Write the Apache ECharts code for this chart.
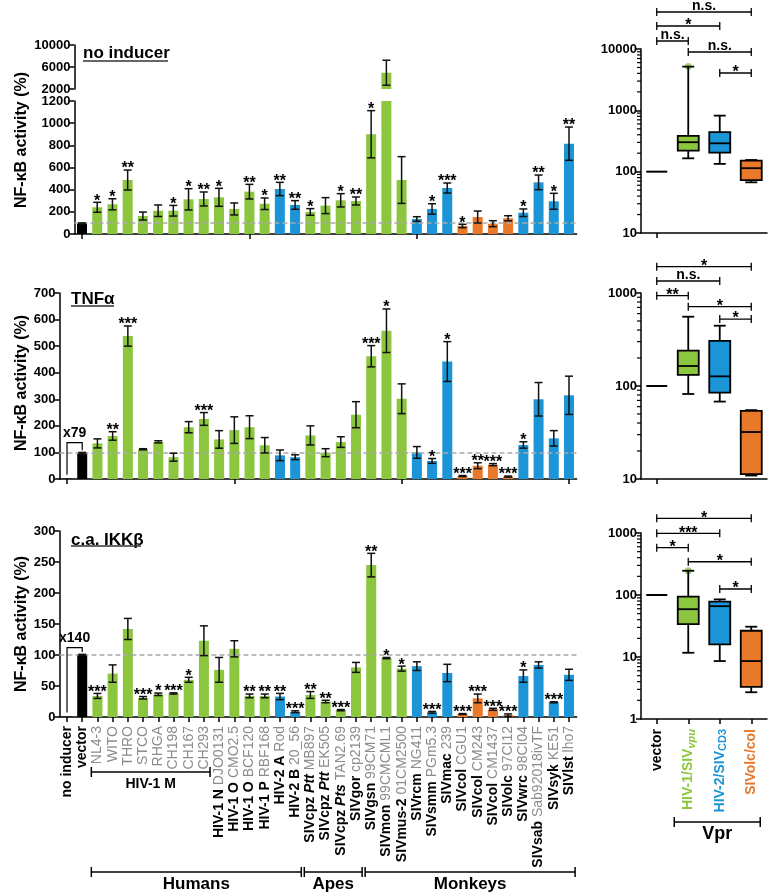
<!DOCTYPE html>
<html><head><meta charset="utf-8">
<script src="https://cdn.jsdelivr.net/npm/echarts@6/dist/echarts.min.js"></script>
<style>html,body{margin:0;padding:0;background:#fff}#c{width:769px;height:894px}</style>
</head><body><div id="c"></div>
<script>
// ---------------- DATA ----------------
const catMain = ['no inducer','vector','','','','','','','','','HIV-1 N','HIV-1 O','HIV-1 O','HIV-1 P','HIV-2 A','HIV-2 B',
  'SIVcpz _Ptt_','SIVcpz _Ptt_','SIVcpz _Pts_','SIVgor','SIVgsn','SIVmon','SIVmus-2','SIVrcm','SIVsmm','SIVmac',
  'SIVcol','SIVcol','SIVcol','SIVolc','SIVwrc','SIVsab','SIVsyk','SIVlst'];
const catStrain = ['','','NL4-3','WITO','THRO','STCO','RHGA','CH198','CH167','CH293','DJO0131','CMO2.5','BCF120','RBF168','Rod','20_56',
  'MB897','EK505','TAN2.69','cp2139','99CM71','99CMCML1','01CM2500','NG411','PGm5.3','239',
  'CGU1','CM243','CM1437','97CI12','98CI04','Sab92018ivTF','KE51','lho7'];
const vprGroup = ['vector','vector','vpu','vpu','vpu','vpu','vpu','vpu','vpu','vpu','vpu','vpu','vpu','vpu','cd3','cd3',
  'vpu','vpu','vpu','vpu','vpu','vpu','vpu','cd3','cd3','cd3','col','col','col','col','cd3','cd3','cd3','cd3'];

const noInducer    = [null,95,241,268,487,162,210,210,313,316,331,226,382,273,406,262,199,256,304,298,900,4960,487,135,226,415,72,153,93,142,192,466,295,815];
const noInducerErr = [null,5,45,50,90,36,52,48,96,63,81,54,66,52,60,39,30,72,60,36,213,2270,211,21,47,45,15,54,27,23,34,66,72,150];
const noInducerSig = ['','','*','*','**','','','*','*','**','*','','**','*','**','**','*','','*','**','*','','','','*','***','*','','','','*','**','*','**'];

const tnf    = [1.3,97,134,162,538,112,140,82,195,226,149,184,195,127,89,82,164,99,139,242,462,558,302,100,68,442,11,50,54,9,128,300,153,315];
const tnfErr = [0,3,17,16,38,2,4,15,21,24,33,50,43,29,20,9,36,15,20,49,40,82,56,22,9,75,2,11,4,2,12,63,29,72];
const tnfSig = ['','','','**','***','','','','','***','','','','','','','','','','','***','*','','','*','*','***','**','***','***','*','','',''];

const ikk    = [0.7,100,34,70,142,31,36.6,38,60,123,76,110,34,34,33,8.5,35.5,25,11,80,245,95,78,82,7.6,71,4.8,30,12.4,3,66,84,23.7,68];
const ikkErr = [0,1,4,14,17,2,2,1,4,24,20,13,3,3,5,1.5,5.5,2,1,8,19,1,4,7,1.4,14,0.7,7,1.6,2,10,5,0.8,9];
const ikkSig = ['','','***','','','***','*','***','*','','','','**','**','**','***','**','**','***','','**','*','*','','***','','***','***','***','***','*','','***',''];

const topBreakTicks = [2000,6000,10000];

// fold-change annotations: [fromCat, toCat, bracketLevel, label]
const tnfFold = [[0,1,137,'x79']];
const ikkFold = [[0,1,112,'x140']];

// host groups: [label, firstCat, lastCat]
const hostGroups = [['Humans',2,15],['Apes',16,19],['Monkeys',20,33]];
const subGroups = [['HIV-1 M',2,9]];

// box plots: [min, Q1, median, Q3, max]
const boxCats  = ['vector','HIV-1/SIVvpu','HIV-2/SIVCD3','SIVolc/col'];
const boxGroup = ['vector','vpu','cd3','col'];
const boxNoInducer = [[100,100,100,100,100],[165,220,302,382,5160],[134,204,290,440,820],[67,73,114,151,155]];
const boxTnf       = [[100,100,100,100,100],[82,132,164,240,556],[68,85,127,305,445],[10.9,11.3,32,54,55]];
const boxIkk       = [[100,100,100,100,100],[11.7,34,59,94,246],[8.6,16,66,78,85],[2.7,3.3,8.6,26.5,30.8]];
const boxDotNoInducer = [[1,5160]];
const boxDotIkk       = [[1,246]];
// significance: [fromBox, toBox, level, label]
const sigBoxNoInducer = [[0,3,40100,'n.s.'],[0,2,23700,'*'],[0,1,13500,'n.s.'],[1,3,8940,'n.s.'],[2,3,4060,'*']];
const sigBoxTnf       = [[0,3,1919,'*'],[0,2,1346,'n.s.'],[0,1,935,'**'],[1,3,713,'*'],[2,3,525,'*']];
const sigBoxIkk       = [[0,3,1726,'*'],[0,2,989,'***'],[0,1,579,'*'],[1,3,344,'*'],[2,3,125,'*']];

// ---------------- STYLE ----------------
const FONT = '"Liberation Sans", Arial, Helvetica, sans-serif';
const COLORS = {vector:'#000000', vpu:'#8cc63f', cd3:'#1b95d6', col:'#e8782a'};
const GRAY = '#8c8c8c';

const catNames = catMain.map((m,i)=>(m.replace(/_/g,'')+' '+catStrain[i]).trim());
const catNamesTop = catNames.slice(1);

function catLabel(i){
  const m = catMain[i], s = catStrain[i];
  let out = '';
  if (m){
    const parts = m.split('_');
    parts.forEach((p,k)=>{ if(p) out += (k%2 ? '{bi|'+p+'}' : '{b|'+p+'}'); });
  }
  if (s) out += '{g|'+(m ? ' ' : '')+s+'}';
  return out;
}

const axLine = {show:true, onZero:false, lineStyle:{color:'#000', width:1.5}};
const axTick = {show:true, length:5, alignWithLabel:true, lineStyle:{color:'#000', width:1.5}};
const yLab = {color:'#000', fontSize:13, fontWeight:'bold', fontFamily:FONT, margin:4, formatter:v=>String(Math.round(v*100)/100)};

// minor tick positions of the log axes (2..9 of each decade)
function minorVals(lo, hi){
  const out = [];
  let d = lo;
  while (d < hi){ for (let k = 2; k <= 9; k++) out.push(k*d); d = d*10; }
  return out;
}

function grid(l,t,w,h){ return {left:l, top:t, width:w, height:h, containLabel:false, outerBoundsMode:'none'}; }

const grids = [
  grid(74.4,45,502.2,44),
  grid(74.4,101,502.2,133),
  grid(59.4,293,517.2,186),
  grid(59.4,531,517.2,186),
  grid(641,49,126,184),
  grid(641,293,126,186),
  grid(641,533,126,186)
];

const xAxes = [
  {type:'category', gridIndex:0, data:catNamesTop, show:false},
  {type:'category', gridIndex:1, data:catNamesTop, axisLine:axLine, axisTick:axTick, axisLabel:{show:false}},
  {type:'category', gridIndex:2, data:catNames, axisLine:axLine, axisTick:axTick, axisLabel:{show:false}},
  {type:'category', gridIndex:3, data:catNames, axisLine:axLine, axisTick:axTick,
    axisLabel:{show:true, interval:0, rotate:90, margin:9, formatter:(v,i)=>catLabel(i),
      rich:{
        b:{fontWeight:'bold', color:'#000', fontSize:14, fontFamily:FONT},
        bi:{fontWeight:'bold', fontStyle:'italic', color:'#000', fontSize:14, fontFamily:FONT},
        g:{fontWeight:'normal', color:GRAY, fontSize:14, fontFamily:FONT}
      }}},
  {type:'category', gridIndex:4, data:boxCats, axisLine:axLine, axisTick:axTick, axisLabel:{show:false}},
  {type:'category', gridIndex:5, data:boxCats, axisLine:axLine, axisTick:axTick, axisLabel:{show:false}},
  {type:'category', gridIndex:6, data:boxCats, axisLine:axLine, axisTick:axTick,
    axisLabel:{show:true, interval:0, rotate:90, margin:10,
      formatter:(v,i)=>['{k|vector}','{g|HIV-1/SIV}{gs|vpu}','{u|HIV-2/SIV}{us|CD3}','{o|SIVolc/col}'][i],
      rich:{
        k:{fontWeight:'bold', color:'#000', fontSize:14, fontFamily:FONT, lineHeight:18},
        g:{fontWeight:'bold', color:COLORS.vpu, fontSize:14, fontFamily:FONT, lineHeight:18},
        gs:{fontWeight:'bold', fontStyle:'italic', color:COLORS.vpu, fontSize:11, fontFamily:FONT, lineHeight:18, verticalAlign:'bottom', padding:[6,0,0,0]},
        u:{fontWeight:'bold', color:COLORS.cd3, fontSize:14, fontFamily:FONT, lineHeight:18},
        us:{fontWeight:'bold', color:COLORS.cd3, fontSize:11, fontFamily:FONT, lineHeight:18, verticalAlign:'bottom', padding:[6,0,0,0]},
        o:{fontWeight:'bold', color:COLORS.col, fontSize:14, fontFamily:FONT, lineHeight:18}
      }}}
];

function logAxis(gi, lo, hi){
  return {type:'log', logBase:10, gridIndex:gi, min:lo, max:hi, axisLine:axLine,
      axisTick:{show:true, length:5, lineStyle:{color:'#000', width:1.5}},
      axisLabel:Object.assign({}, yLab, {formatter:v=>String(Math.round(v))}), splitLine:{show:false}};
}

const yAxes = [
  {type:'value', gridIndex:0, min:2000, max:10000, axisLine:axLine,
    axisTick:{show:true, length:5, customValues:topBreakTicks, lineStyle:{color:'#000', width:1.5}},
    axisLabel:Object.assign({}, yLab, {customValues:topBreakTicks}), splitLine:{show:false}},
  {type:'value', gridIndex:1, min:0, max:1200, interval:200, axisLine:axLine, axisTick:{show:true,length:5,lineStyle:{color:'#000',width:1.5}}, axisLabel:yLab, splitLine:{show:false}},
  {type:'value', gridIndex:2, min:0, max:700, interval:100, axisLine:axLine, axisTick:{show:true,length:5,lineStyle:{color:'#000',width:1.5}}, axisLabel:yLab, splitLine:{show:false}},
  {type:'value', gridIndex:3, min:0, max:300, interval:50, axisLine:axLine, axisTick:{show:true,length:5,lineStyle:{color:'#000',width:1.5}}, axisLabel:yLab, splitLine:{show:false}},
  logAxis(4,10,10000),
  logAxis(5,10,1000),
  logAxis(6,1,1000)
];

const refLine = {silent:true, symbol:'none', label:{show:false}, lineStyle:{type:[5,3], color:'#a9a9a9', width:1.5}, emphasis:{disabled:true}, data:[{yAxis:100}]};

function barData(vals, offset){ return vals.map((v,i)=>({value:v, itemStyle:{color:COLORS[vprGroup[i+offset]]}})); }

function errRender(sig, stars){
  return function(params, api){
    const i = api.value(0), v = api.value(1), e = api.value(2);
    if (isNaN(v)) return null;
    const top = api.coord([i, v+e]), bot = api.coord([i, Math.max(v-e,0)]);
    const x = top[0], cw = 4, st = {stroke:'#111', lineWidth:1.5};
    const ch = [];
    if (e > 0){
      ch.push({type:'line', shape:{x1:x,y1:top[1],x2:x,y2:bot[1]}, style:st});
      ch.push({type:'line', shape:{x1:x-cw,y1:top[1],x2:x+cw,y2:top[1]}, style:st});
      ch.push({type:'line', shape:{x1:x-cw,y1:bot[1],x2:x+cw,y2:bot[1]}, style:st});
    }
    const s = stars ? sig[params.dataIndex] : '';
    if (s) ch.push({type:'text', style:{text:s, x:x, y:top[1]+7, align:'center', verticalAlign:'bottom', fontSize:16, fontWeight:'bold', fontFamily:FONT, fill:'#000'}});
    return {type:'group', children:ch};
  };
}

function foldRender(vals){
  return function(params, api){
    const a = api.value(0), b = api.value(1), lvl = api.value(2);
    const lab = api.value(3);
    const pa = api.coord([a, lvl]), pb = api.coord([b, lvl]);
    const ya = api.coord([a, vals[a]])[1] - 4, yb = api.coord([b, vals[b]])[1] - 3;
    const st = {stroke:'#000', lineWidth:1.2};
    return {type:'group', children:[
      {type:'polyline', shape:{points:[[pa[0],ya],[pa[0],pa[1]],[pb[0],pb[1]],[pb[0],yb]]}, style:Object.assign({fill:null}, st)},
      {type:'text', style:{text:lab, x:(pa[0]+pb[0])/2, y:pa[1]-2, align:'center', verticalAlign:'bottom', fontSize:14, fontWeight:'bold', fontFamily:FONT, fill:'#000'}}
    ]};
  };
}

function boxRender(params, api){
  const i = api.value(0);
  const v = [1,2,3,4,5].map(k=>api.value(k));
  const p = v.map(val=>api.coord([i,val])[1]);
  const x = api.coord([i, v[2]])[0];
  const col = COLORS[boxGroup[i]];
  const st = {stroke:'#000', lineWidth:1.8};
  if (v[0] === v[4]){
    return {type:'line', shape:{x1:x-10.5,y1:p[2],x2:x+10.5,y2:p[2]}, style:{stroke:'#000', lineWidth:2}};
  }
  const hw = 10.5, cw = 6;
  return {type:'group', children:[
    {type:'line', shape:{x1:x,y1:p[0],x2:x,y2:p[1]}, style:st},
    {type:'line', shape:{x1:x,y1:p[3],x2:x,y2:p[4]}, style:st},
    {type:'line', shape:{x1:x-cw,y1:p[0],x2:x+cw,y2:p[0]}, style:st},
    {type:'line', shape:{x1:x-cw,y1:p[4],x2:x+cw,y2:p[4]}, style:st},
    {type:'rect', shape:{x:x-hw, y:p[3], width:2*hw, height:p[1]-p[3]}, style:{fill:col, stroke:'#000', lineWidth:1.8}},
    {type:'line', shape:{x1:x-hw,y1:p[2],x2:x+hw,y2:p[2]}, style:st}
  ]};
}

function sigRender(params, api){
  const a = api.value(0), b = api.value(1), lvl = api.value(2);
  const lab = api.value(3);
  const pa = api.coord([a,lvl]), pb = api.coord([b,lvl]);
  const st = {stroke:'#000', lineWidth:1.3};
  const star = String(lab).indexOf('*') >= 0;
  return {type:'group', children:[
    {type:'line', shape:{x1:pa[0],y1:pa[1],x2:pb[0],y2:pb[1]}, style:st},
    {type:'line', shape:{x1:pa[0],y1:pa[1]-4,x2:pa[0],y2:pa[1]+4}, style:st},
    {type:'line', shape:{x1:pb[0],y1:pb[1]-4,x2:pb[0],y2:pb[1]+4}, style:st},
    {type:'text', style:{text:lab, x:(pa[0]+pb[0])/2, y:pa[1]+(star?8:1), align:'center', verticalAlign:'bottom', fontSize:star?16:14, fontWeight:'bold', fontFamily:FONT, fill:'#000'}}
  ]};
}

const topVals = noInducer.slice(1), topErr = noInducerErr.slice(1), topSig = noInducerSig.slice(1);
const errData = (vals, errs) => vals.map((v,i)=>[i, v, errs[i]]);
const boxData = arr => arr.map((d,i)=>[i].concat(d));

const series = [
  {type:'bar', xAxisIndex:0, yAxisIndex:0, data:barData(topVals,1), barWidth:10, clip:true, silent:true},
  {type:'bar', xAxisIndex:1, yAxisIndex:1, data:barData(topVals,1), barWidth:10, clip:true, silent:true, markLine:refLine},
  {type:'bar', xAxisIndex:2, yAxisIndex:2, data:barData(tnf,0), barWidth:10, clip:true, silent:true, markLine:refLine},
  {type:'bar', xAxisIndex:3, yAxisIndex:3, data:barData(ikk,0), barWidth:10, clip:true, silent:true, markLine:refLine},
  {type:'custom', xAxisIndex:0, yAxisIndex:0, clip:true, silent:true, renderItem:errRender(topSig,false), data:errData(topVals,topErr), z:5},
  {type:'custom', xAxisIndex:1, yAxisIndex:1, clip:true, silent:true, renderItem:errRender(topSig,true), data:errData(topVals,topErr), z:5},
  {type:'custom', xAxisIndex:2, yAxisIndex:2, silent:true, renderItem:errRender(tnfSig,true), data:errData(tnf,tnfErr), z:5},
  {type:'custom', xAxisIndex:3, yAxisIndex:3, silent:true, renderItem:errRender(ikkSig,true), data:errData(ikk,ikkErr), z:5},
  {type:'custom', xAxisIndex:2, yAxisIndex:2, silent:true, renderItem:foldRender(tnf), data:tnfFold, z:5},
  {type:'custom', xAxisIndex:3, yAxisIndex:3, silent:true, renderItem:foldRender(ikk), data:ikkFold, z:5},
  {type:'custom', xAxisIndex:4, yAxisIndex:4, silent:true, renderItem:boxRender, data:boxData(boxNoInducer)},
  {type:'custom', xAxisIndex:5, yAxisIndex:5, silent:true, renderItem:boxRender, data:boxData(boxTnf)},
  {type:'custom', xAxisIndex:6, yAxisIndex:6, silent:true, renderItem:boxRender, data:boxData(boxIkk)},
  {type:'scatter', xAxisIndex:4, yAxisIndex:4, silent:true, symbolSize:7, itemStyle:{color:COLORS.vpu}, data:boxDotNoInducer, z:1},
  {type:'scatter', xAxisIndex:6, yAxisIndex:6, silent:true, symbolSize:7, itemStyle:{color:COLORS.vpu}, data:boxDotIkk, z:1},
  {type:'custom', xAxisIndex:4, yAxisIndex:4, silent:true, renderItem:sigRender, data:sigBoxNoInducer},
  {type:'custom', xAxisIndex:5, yAxisIndex:5, silent:true, renderItem:sigRender, data:sigBoxTnf},
  {type:'custom', xAxisIndex:6, yAxisIndex:6, silent:true, renderItem:sigRender, data:sigBoxIkk}
];

const chart = echarts.init(document.getElementById('c'), null, {renderer:'canvas'});
chart.setOption({animation:false, backgroundColor:'#fff', grid:grids, xAxis:xAxes, yAxis:yAxes, series:series});

// ---------------- ANNOTATIONS ----------------
const T = (text, x, y, size, opts) => Object.assign({type:'text', x:x, y:y, silent:true,
  style:Object.assign({text:text, fontSize:size, fontWeight:'bold', fontFamily:FONT, fill:'#000', align:'left', verticalAlign:'middle'}, opts||{})});
const L = (x1,y1,x2,y2,w,c) => ({type:'line', silent:true, shape:{x1:x1,y1:y1,x2:x2,y2:y2}, style:{stroke:c||'#000', lineWidth:w||1.5}});
const bracket = (x1,x2,y,h) => [L(x1,y,x2,y,1.5), L(x1,y-h,x1,y+h,1.5), L(x2,y-h,x2,y+h,1.5)];

const g = [];
// panel titles
g.push(T('no inducer',83,53,17)); g.push(L(83,61,168,61,1.5,'#333'));
g.push(T('TNFα',71,299,17)); g.push(L(71,306,114,306,1.5,'#333'));
g.push(T('c.a. IKKβ',71,540,17)); g.push(L(71,546,141,546,1.5,'#333'));
// y names
[140,383,624].forEach(yc=>g.push(Object.assign(T('NF-κB activity (%)',22,yc,16,{align:'center'}),{rotation:Math.PI/2})));

// log-axis minor ticks, positioned through the y scales of the box panels
[[4,10,10000],[5,10,1000],[6,1,1000]].forEach(([ai,lo,hi])=>{
  const x0 = grids[ai].left;
  minorVals(lo,hi).forEach(m=>{
    const y = chart.convertToPixel({yAxisIndex:ai}, m);
    g.push({type:'rect', silent:true, z:100, shape:{x:x0-4, y:y-0.6, width:4, height:1.2}, style:{fill:'#000'}});
  });
});

// category group brackets from the axis scale
const px = n => chart.convertToPixel({xAxisIndex:3}, catNames[n]);
const band = px(1) - px(0);
subGroups.forEach(([lab,a,b])=>{
  const x1 = px(a)-band/2+1.5, x2 = px(b)+band/2-1.5;
  bracket(x1,x2,772,5).forEach(e=>g.push(e));
  g.push(T(lab,(x1+x2)/2,784,14,{align:'center'}));
});
hostGroups.forEach(([lab,a,b])=>{
  const x1 = px(a)-band/2+1.5, x2 = px(b)+band/2-1.5;
  bracket(x1,x2,872,5).forEach(e=>g.push(e));
  g.push(T(lab,(x1+x2)/2,884,17,{align:'center'}));
});
// Vpr bracket
const bx = n => chart.convertToPixel({xAxisIndex:6}, boxCats[n]);
bracket(bx(1)-14, bx(3)+9, 822, 5).forEach(e=>g.push(e));
g.push(T('Vpr',(bx(1)-14+bx(3)+9)/2,834,18,{align:'center'}));

chart.setOption({graphic:g});
</script>
</body></html>
